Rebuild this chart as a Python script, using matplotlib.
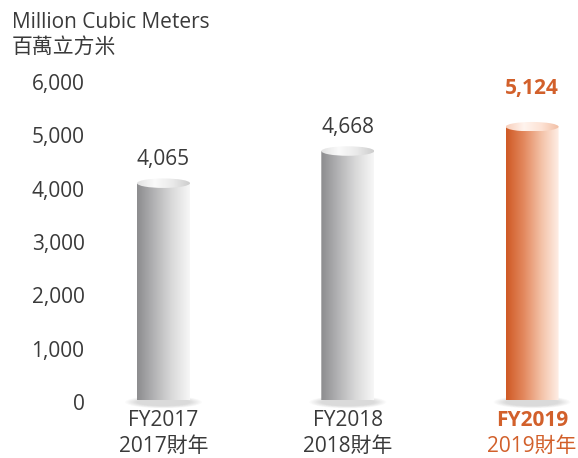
import numpy as np
import matplotlib
matplotlib.use("Agg")
import matplotlib.pyplot as plt
from matplotlib.colors import LinearSegmentedColormap
from matplotlib.patches import Ellipse, Polygon
from matplotlib.transforms import ScaledTranslation

# data
years = ["FY2017", "FY2018", "FY2019"]
years_zh = ["2017財年", "2018財年", "2019財年"]
values = [4065, 4668, 5124]
yticks = [0, 1000, 2000, 3000, 4000, 5000, 6000]

TXT = "#3a3a3a"
ORANGE = "#d2602b"

GRAY_BODY = ["#8c8c8e", "#b4b4b6", "#dadada", "#f7f7f7"]
GRAY_CAP = ["#e2e2e2", "#fafafa", "#eaeaea", "#cdcdcd"]
ORANGE_BODY = ["#cf5924", "#e3895f", "#f4c3a9", "#fff1ea"]
ORANGE_CAP = ["#f8d0bc", "#fff4ee", "#fde2d4", "#f1bca1"]

plt.rcParams["font.family"] = ["Open Sans", "Noto Sans CJK TC", "DejaVu Sans"]

W, H = 578, 458
fig = plt.figure(figsize=(W / 100, H / 100), dpi=100)
# axes: y 0 -> px 400, 6000 -> px 80 ; x centres at ~163, 350, 532 px
ax_l, ax_r, ax_b, ax_t = 90, 578, 400, 80
ax = fig.add_axes([ax_l / W, (H - ax_b) / H, (ax_r - ax_l) / W, (ax_b - ax_t) / H])
step = 184.3
xlo = -(163.5 - ax_l) / step
xhi = (ax_r - 163.5) / step

bar_w = 53 / step
cap_h = 9.5 / (320 / 6000)  # ellipse height in data units
grad = np.linspace(0, 1, 256).reshape(1, -1)


def cylinder(ax, xc, top, body_cols, cap_cols):
    x0, x1 = xc - bar_w / 2, xc + bar_w / 2
    # soft shadow under the base
    for k in range(10):
        f = 1.0 + 0.45 * (1 - k / 9)
        ax.add_patch(Ellipse((xc, -40), bar_w * f, cap_h * (0.8 + 0.5 * (1 - k / 9)),
                             facecolor="#909090", edgecolor="none", alpha=0.035,
                             zorder=2, clip_on=False))
    t = np.linspace(np.pi, 2 * np.pi, 80)
    verts = [(x0, top)] + list(zip(xc + bar_w / 2 * np.cos(t), cap_h / 2 * np.sin(t))) + [(x1, top)]
    body = Polygon(verts, closed=True, facecolor="none", edgecolor="none")
    ax.add_patch(body)
    im = ax.imshow(grad, cmap=LinearSegmentedColormap.from_list("b", body_cols),
                   extent=[x0, x1, -cap_h, top], aspect="auto", origin="lower",
                   zorder=3, interpolation="bilinear")
    im.set_clip_path(body)
    cap = Ellipse((xc, top), bar_w, cap_h, facecolor="none", edgecolor="none")
    ax.add_patch(cap)
    im2 = ax.imshow(grad, cmap=LinearSegmentedColormap.from_list("c", cap_cols),
                    extent=[x0, x1, top - cap_h / 2, top + cap_h / 2], aspect="auto",
                    origin="lower", zorder=4, interpolation="bilinear")
    im2.set_clip_path(cap)


for i, v in enumerate(values):
    last = i == len(values) - 1
    cylinder(ax, i, v, ORANGE_BODY if last else GRAY_BODY, ORANGE_CAP if last else GRAY_CAP)
    ax.annotate(f"{v:,}", xy=(i, v), xytext=(0, 38 if last else 24),
                textcoords="offset pixels", ha="center", va="center",
                fontsize=15, color=ORANGE if last else TXT,
                fontweight="bold" if last else "normal")
    ax.annotate(years[i], xy=(i, 0), xycoords=ax.get_xaxis_transform(),
                xytext=(0, -20), textcoords="offset pixels", ha="center", va="center",
                fontsize=15, color=ORANGE if last else TXT,
                fontweight="bold" if last else "normal")
    ax.annotate(years_zh[i], xy=(i, 0), xycoords=ax.get_xaxis_transform(),
                xytext=(0, -46), textcoords="offset pixels", ha="center", va="center",
                fontsize=15, color=ORANGE if last else TXT)

ax.set_xlim(xlo, xhi)
ax.set_ylim(0, 6000)
ax.set_xticks([])
ax.set_yticks(yticks)
ax.set_yticklabels([f"{t:,}" for t in yticks], fontsize=15, color=TXT)
ax.tick_params(axis="y", length=0, pad=4)
for lab in ax.get_yticklabels():
    lab.set_transform(lab.get_transform() + ScaledTranslation(0, -2 / 100, fig.dpi_scale_trans))
for s in ax.spines.values():
    s.set_visible(False)
ax.patch.set_visible(False)

fig.text(12 / W, 1 - 22 / H, "Million Cubic Meters", fontsize=15, color=TXT, va="center")
fig.text(12 / W, 1 - 47 / H, "百萬立方米", fontsize=15, color=TXT, va="center")

fig.savefig("out.png", dpi=100)
